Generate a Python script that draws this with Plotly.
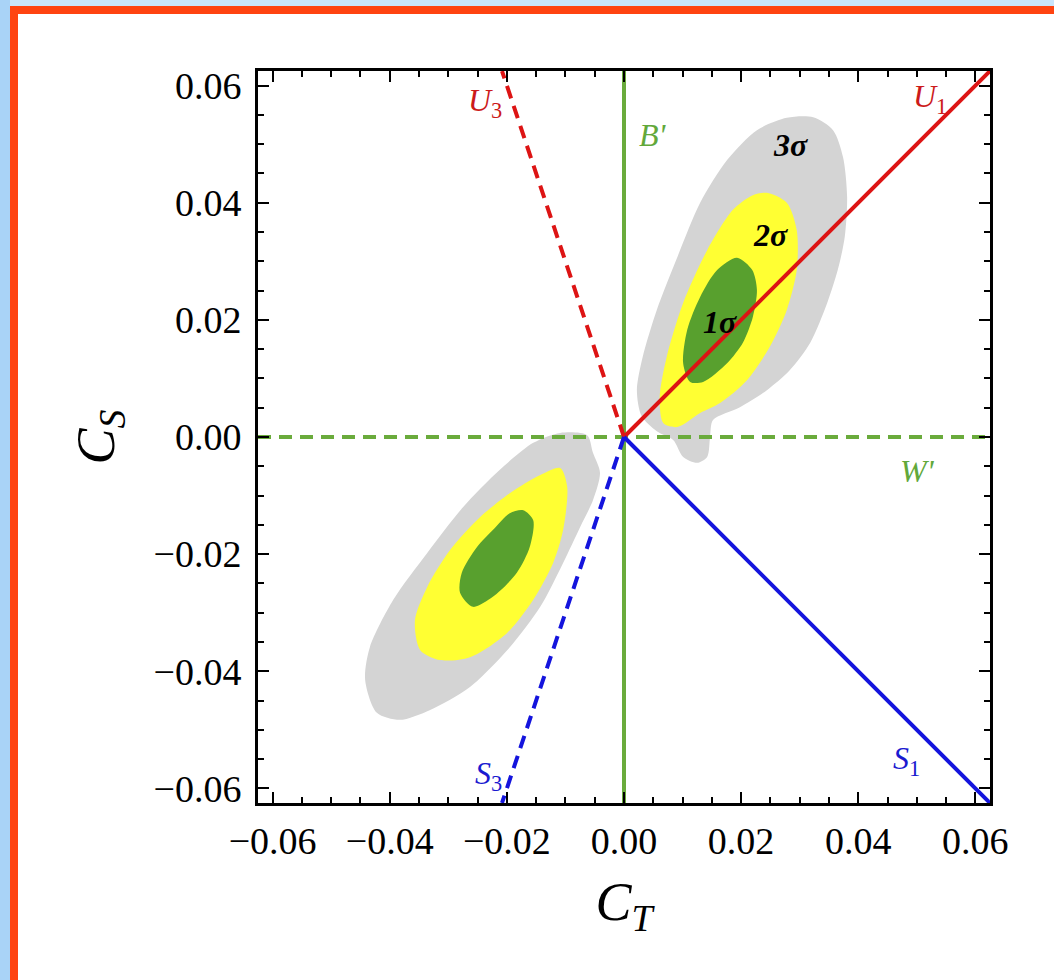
import plotly.graph_objects as go

# ---------------- data ----------------
# upper-right confidence regions (C_T, C_S)
grey_up_ct = [0.0323, 0.0357, 0.0374, 0.0381, 0.0377, 0.0365, 0.0347, 0.0318, 0.0283, 0.0244, 0.0198,
              0.0152, 0.0147, 0.0142, 0.0125, 0.0101, 0.0084, 0.0056, 0.0030, 0.0022, 0.0032, 0.0056,
              0.0091, 0.0130, 0.0176, 0.0227, 0.0278]
grey_up_cs = [0.0546, 0.0524, 0.0478, 0.0410, 0.0342, 0.0285, 0.0229, 0.0161, 0.0114, 0.0080, 0.0051,
              0.0029, 0.0000, -0.0034, -0.0044, -0.0034, -0.0005, 0.0010, 0.0036, 0.0080, 0.0137, 0.0217,
              0.0307, 0.0400, 0.0473, 0.0524, 0.0545]
yellow_up_ct = [0.0244, 0.0278, 0.0295, 0.0295, 0.0278, 0.0249, 0.0210, 0.0164, 0.0130, 0.0091, 0.0067,
                0.0061, 0.0073, 0.0101, 0.0142, 0.0186, 0.0220]
yellow_up_cs = [0.0417, 0.0400, 0.0353, 0.0285, 0.0217, 0.0154, 0.0097, 0.0058, 0.0041, 0.0017, 0.0024,
                0.0068, 0.0137, 0.0229, 0.0319, 0.0388, 0.0413]
green_up_ct = [0.0193, 0.0219, 0.0227, 0.0220, 0.0203, 0.0176, 0.0135, 0.0113, 0.0101, 0.0108, 0.0130, 0.0159]
green_up_cs = [0.0306, 0.0285, 0.0251, 0.0205, 0.0161, 0.0126, 0.0094, 0.0094, 0.0126, 0.0183, 0.0239, 0.0285]

# lower-left confidence regions
grey_lo_ct = [-0.0109, -0.0063, -0.0053, -0.0041, -0.0053, -0.0075, -0.0104, -0.0143, -0.0195, -0.0263,
              -0.0331, -0.0383, -0.0422, -0.0442, -0.0434, -0.0394, -0.0336, -0.0275, -0.0212, -0.0155]
grey_lo_cs = [0.0007, 0.0003, -0.0027, -0.0061, -0.0108, -0.0154, -0.0215, -0.0290, -0.0359, -0.0427,
              -0.0466, -0.0483, -0.0471, -0.0415, -0.0359, -0.0278, -0.0198, -0.0120, -0.0056, -0.0010]
yellow_lo_ct = [-0.0109, -0.0097, -0.0104, -0.0121, -0.0155, -0.0200, -0.0263, -0.0314, -0.0348, -0.0357,
                -0.0336, -0.0297, -0.0246, -0.0195, -0.0143]
yellow_lo_cs = [-0.0053, -0.0085, -0.0159, -0.0215, -0.0278, -0.0335, -0.0376, -0.0381, -0.0364, -0.0313,
                -0.0256, -0.0193, -0.0137, -0.0096, -0.0065]
green_lo_ct = [-0.0172, -0.0155, -0.0161, -0.0183, -0.0224, -0.0258, -0.0280, -0.0277, -0.0251, -0.0224, -0.0195]
green_lo_cs = [-0.0125, -0.0142, -0.0188, -0.0232, -0.0273, -0.0290, -0.0266, -0.0232, -0.0188, -0.0159, -0.0130]

# mediator lines: end points from the origin
lim = 0.0625
u1_ct, u1_cs = [0.0, lim], [0.0, lim]
u3_ct, u3_cs = [0.0, -lim / 3], [0.0, lim]
s1_ct, s1_cs = [0.0, lim], [0.0, -lim]
s3_ct, s3_cs = [0.0, -lim / 3], [0.0, -lim]
bp_ct, bp_cs = [0.0, 0.0], [-lim, lim]
wp_ct, wp_cs = [-lim, lim], [0.0, 0.0]

# text labels
lab_text = ["<i>U</i><sub>3</sub>", "<i>U</i><sub>1</sub>", "<i>B'</i>", "<i>W'</i>",
            "<i>S</i><sub>3</sub>", "<i>S</i><sub>1</sub>",
            "<b><i>3σ</i></b>", "<b><i>2σ</i></b>", "<b><i>1σ</i></b>"]
lab_ct = [-0.0237, 0.0523, 0.0050, 0.0502, -0.0232, 0.0482, 0.0285, 0.0250, 0.0164]
lab_cs = [0.0572, 0.0578, 0.0516, -0.0058, -0.0578, -0.0552, 0.0499, 0.0345, 0.0196]
lab_color = ["#cc1a1a", "#cc1a1a", "#62a83a", "#62a83a", "#1a1ad0", "#1a1ad0", "black", "black", "black"]

xtick_vals = [-0.06, -0.04, -0.02, 0.00, 0.02, 0.04, 0.06]
ytick_vals = [-0.06, -0.04, -0.02, 0.00, 0.02, 0.04, 0.06]

# ---------------- figure ----------------
GREY = "#d4d4d4"
YELLOW = "#ffff33"
GREEN = "#58a02e"
RED = "#dd1414"
BLUE = "#1414dd"
LGREEN = "#6aab3c"

fig = go.Figure()


def region(x, y, color):
    fig.add_trace(go.Scatter(x=x + [x[0]], y=y + [y[0]], mode="lines", fill="toself",
                             fillcolor=color, line=dict(color=color, width=0, shape="spline", smoothing=0.8),
                             hoverinfo="skip", showlegend=False))


region(grey_up_ct, grey_up_cs, GREY)
region(grey_lo_ct, grey_lo_cs, GREY)
region(yellow_up_ct, yellow_up_cs, YELLOW)
region(yellow_lo_ct, yellow_lo_cs, YELLOW)
region(green_up_ct, green_up_cs, GREEN)
region(green_lo_ct, green_lo_cs, GREEN)


def line(x, y, color, dash="solid"):
    fig.add_trace(go.Scatter(x=x, y=y, mode="lines", line=dict(color=color, width=4, dash=dash),
                             hoverinfo="skip", showlegend=False))


DASH = "13px,8px"
line(bp_ct, bp_cs, LGREEN)
line(wp_ct, wp_cs, LGREEN, DASH)
line(u3_ct, u3_cs, RED, DASH)
line(s3_ct, s3_cs, BLUE, DASH)
line(u1_ct, u1_cs, RED)
line(s1_ct, s1_cs, BLUE)

for t, x, y, c in zip(lab_text, lab_ct, lab_cs, lab_color):
    fig.add_annotation(x=x, y=y, text=t, showarrow=False,
                       font=dict(family="Liberation Serif", size=32, color=c))

# page decoration (slide border) in pixel-derived paper coordinates
W, H = 1054, 980
ML, MR, MT, MB = 258, 64, 71, 177
PW, PH = W - ML - MR, H - MT - MB


def px(x):
    return (x - ML) / PW


def py(y):
    return (H - MB - y) / PH


fig.add_shape(type="rect", xref="paper", yref="paper", x0=px(0), x1=px(W), y0=py(0), y1=py(6),
              fillcolor="#c9e5fb", line_width=0, layer="below")
fig.add_shape(type="rect", xref="paper", yref="paper", x0=px(0), x1=px(10), y0=py(0), y1=py(H),
              fillcolor="#a9d3f7", line_width=0, layer="below")
fig.add_shape(type="rect", xref="paper", yref="paper", x0=px(10), x1=px(W), y0=py(6), y1=py(14),
              fillcolor="#ff4411", line_width=0, layer="below")
fig.add_shape(type="rect", xref="paper", yref="paper", x0=px(10), x1=px(18), y0=py(6), y1=py(H),
              fillcolor="#ff4411", line_width=0, layer="below")

axis_common = dict(range=[-lim, lim], showgrid=False, zeroline=False, showline=True, linecolor="black",
                   linewidth=3, mirror="allticks", ticks="inside", ticklen=11, tickwidth=2,
                   tickcolor="black", tickformat=".2f",
                   tickfont=dict(family="Liberation Serif", size=38, color="black"),
                   minor=dict(ticks="inside", ticklen=6, tickwidth=2, dtick=0.005, tickcolor="black",
                              showgrid=False))

fig.update_xaxes(**axis_common, tickvals=xtick_vals, ticklabelstandoff=2,
                 title=dict(text="<i>C<sub>T</sub></i>", standoff=22,
                            font=dict(family="Liberation Serif", size=54, color="black")))
fig.update_yaxes(**axis_common, tickvals=ytick_vals, ticklabelstandoff=6,
                 title=dict(text="<i>C<sub>S</sub></i>", standoff=22,
                            font=dict(family="Liberation Serif", size=54, color="black")))

fig.update_layout(width=W, height=H, margin=dict(l=ML, r=MR, t=MT, b=MB),
                  paper_bgcolor="white", plot_bgcolor="white", showlegend=False)

fig.write_html("out.html")
